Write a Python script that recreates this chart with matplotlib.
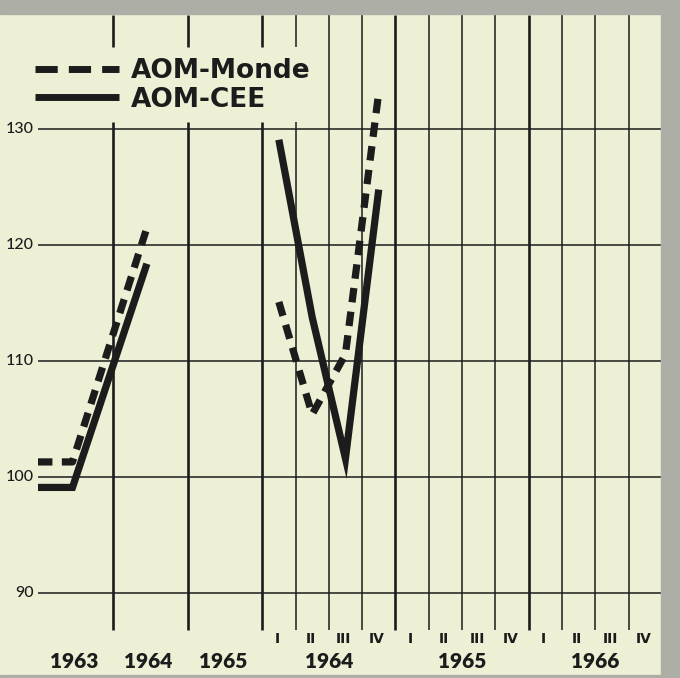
import matplotlib.pyplot as plt
from matplotlib.lines import Line2D
from matplotlib.patches import Rectangle

# values (index)
years = ['1963', '1964', '1965']
annual_monde = [101.3, 121.5]   # 1963, 1964
annual_cee = [99.1, 118.4]
quarters = ['I', 'II', 'III', 'IV']
quarter_years = ['1964', '1965', '1966']
q1964_monde = [115.1, 105.4, 110.6, 133.2]
q1964_cee = [129.1, 113.8, 101.6, 124.8]
y_ticks = [90, 100, 110, 120, 130]

W, H = 680, 678
bg = '#eef0d6'
ink = '#1c1c1c'

# layout in pixels
grid_l, grid_r = 38, 661
ann_l, ann_w = 39, 74.4
q_l, q_w = 262.2, 33.3
px_per_unit = 11.59
y100_px = 477

fig = plt.figure(figsize=(W / 100, H / 100), dpi=100, facecolor=bg)
ax = fig.add_axes([0, 0, 1, 1])
ax.set_facecolor(bg)
top_val = 100 + y100_px / px_per_unit
ax.set_xlim(0, W)
ax.set_ylim(top_val - H / px_per_unit, top_val)
ax.axis('off')


def py(p):
    # pixel row -> value
    return top_val - p / px_per_unit


# scan border
grey = '#adaea5'
fig.patches.append(Rectangle((0, 1 - 14 / H), 1, 14 / H, transform=fig.transFigure, color=grey, zorder=0))
fig.patches.append(Rectangle((grid_r / W, 0), 1 - grid_r / W, 1, transform=fig.transFigure, color=grey, zorder=0))
fig.patches.append(Rectangle((0, 0), 1, 3 / H, transform=fig.transFigure, color=grey, zorder=0))

# horizontal grid
ax.hlines(y_ticks, grid_l, grid_r, color=ink, lw=1.1, zorder=1)
for v in y_ticks:
    ax.text(34, v, str(v), ha='right', va='center', fontsize=11.5, family='Lato',
            weight='medium', color=ink)

# vertical grid
vx = [ann_l + k * ann_w for k in (1, 2)] + [q_l + k * q_w for k in range(12)]
thick = [True, True] + [k % 4 == 0 for k in range(12)]
v_top, v_bot = py(15), py(630)
gap_top, gap_bot = py(47), py(122)
for x, t in zip(vx, thick):
    lw = 1.9 if t else 1.1
    if x < 310:
        ax.vlines(x, v_bot, gap_bot, color=ink, lw=lw, zorder=1)
        ax.vlines(x, gap_top, v_top, color=ink, lw=lw, zorder=1)
    else:
        ax.vlines(x, v_bot, v_top, color=ink, lw=lw, zorder=1)

# data lines
ann_x = [grid_l] + [ann_l + (i + 0.45) * ann_w for i in range(2)]
q_x = [q_l + (k + 0.5) * q_w for k in range(4)]
dash = dict(color=ink, lw=5.2, dashes=(2.0, 1.3), dash_capstyle='butt', zorder=3)
solid = dict(color=ink, lw=5.2, solid_capstyle='butt', solid_joinstyle='miter', zorder=3)
ax.plot(ann_x, [annual_monde[0]] + annual_monde, **dash)
ax.plot(ann_x, [annual_cee[0]] + annual_cee, **solid)
ax.plot(q_x, q1964_monde, **dash)
ax.plot(q_x, q1964_cee, **solid)

# bottom labels
for i, y in enumerate(years):
    ax.text(ann_l + (i + 0.47) * ann_w, py(662), y, ha='center', va='center',
            fontsize=15, family='Lato', weight='heavy', color=ink)
for j, y in enumerate(quarter_years):
    ax.text(q_l + (4 * j + 2) * q_w, py(662), y, ha='center', va='center',
            fontsize=15, family='Lato', weight='heavy', color=ink)
    for k, q in enumerate(quarters):
        ax.text(q_l + (4 * j + k + 0.45) * q_w, py(639), q, ha='center', va='center',
                fontsize=10, family='DejaVu Sans', weight='bold', color=ink)

# legend
handles = [Line2D([], [], color=ink, lw=5, dashes=(3.2, 1.6), dash_capstyle='butt'),
           Line2D([], [], color=ink, lw=5, solid_capstyle='butt')]
ax.legend(handles, ['AOM-Monde', 'AOM-CEE'], loc='upper left',
          bbox_to_anchor=(35 / W, 1 - 58 / H), frameon=False,
          prop=dict(family='DejaVu Sans', weight='bold', size=19),
          handlelength=3.2, handletextpad=0.45, labelspacing=0.1,
          borderpad=0, borderaxespad=0, labelcolor=ink)

fig.savefig('out.png', dpi=100, facecolor=bg)
